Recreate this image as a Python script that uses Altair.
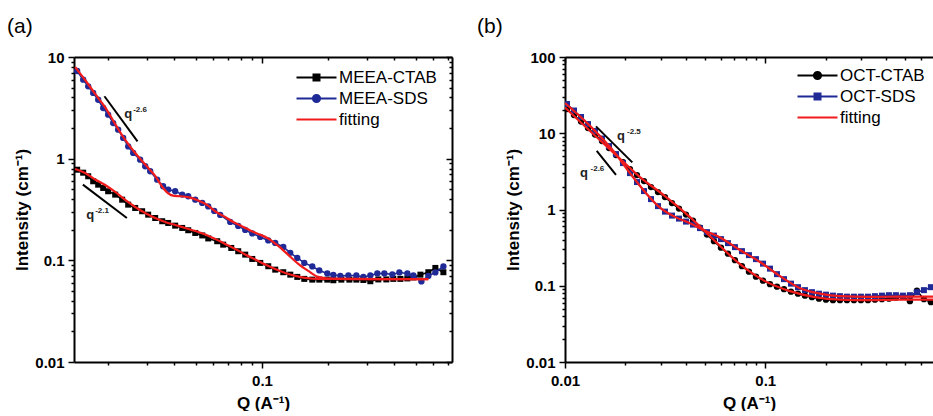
import altair as alt
import pandas as pd

FONT = "Liberation Sans"
BLACK = "#000000"
NAVY = "#1f2a96"
RED = "#f21b1b"

# ---------------- (a) MEEA samples ----------------
a_ctab_q = [0.01447, 0.01541, 0.01624, 0.01711, 0.01803, 0.0190, 0.02001, 0.02154, 0.02317, 0.02468,
            0.02655, 0.02856, 0.03042, 0.03273, 0.03523, 0.03749, 0.04034, 0.04342, 0.04624, 0.04977,
            0.05355, 0.05702, 0.06262, 0.06667, 0.07253, 0.07802, 0.08394, 0.09036, 0.09824, 0.1068,
            0.1149, 0.1250, 0.1345, 0.1447, 0.1557, 0.1693, 0.1822, 0.1981, 0.2110, 0.2294,
            0.2495, 0.2684, 0.2888, 0.3107, 0.3378, 0.3673, 0.3950, 0.4254, 0.4576, 0.4873,
            0.5246, 0.5700, 0.6134, 0.6671]
a_ctab_i = [0.779, 0.728, 0.671, 0.5995, 0.555, 0.515, 0.478, 0.443, 0.395, 0.353,
            0.3275, 0.304, 0.2814, 0.261, 0.2424, 0.2332, 0.2194, 0.2083, 0.1977, 0.1859,
            0.1757, 0.1642, 0.1541, 0.1427, 0.1324, 0.1229, 0.1138, 0.1032, 0.0943, 0.0875,
            0.0810, 0.0764, 0.0723, 0.0687, 0.0657, 0.0646, 0.0646, 0.0646, 0.0637, 0.0646,
            0.0646, 0.0646, 0.0641, 0.0623, 0.0649, 0.0649, 0.0657, 0.0657, 0.0664, 0.0679,
            0.0723, 0.0764, 0.0842, 0.0764]
a_sds_q = [0.01447, 0.01541, 0.01624, 0.01711, 0.01803, 0.0190, 0.02001, 0.02109, 0.02222, 0.02342,
           0.02468, 0.0260, 0.02797, 0.02948, 0.03107, 0.03342, 0.03557, 0.03749, 0.04034, 0.04342,
           0.04624, 0.04977, 0.05355, 0.05702, 0.06070, 0.06462, 0.07176, 0.07802, 0.08394, 0.09036,
           0.09824, 0.1068, 0.1149, 0.1250, 0.1345, 0.1447, 0.1557, 0.1693, 0.1822, 0.1981,
           0.2110, 0.2270, 0.2469, 0.2684, 0.2888, 0.3107, 0.3343, 0.3597, 0.3911, 0.4208,
           0.4576, 0.4873, 0.5300, 0.5700, 0.6134, 0.6671]
a_sds_i = [7.28, 5.98, 5.15, 4.43, 3.80, 3.15, 2.71, 2.24, 1.93, 1.60,
           1.32, 1.14, 0.978, 0.842, 0.752, 0.622, 0.535, 0.496, 0.478, 0.443,
           0.427, 0.395, 0.367, 0.339, 0.306, 0.2796, 0.2385, 0.218, 0.199, 0.1838,
           0.1699, 0.157, 0.1483, 0.1354, 0.1183, 0.1056, 0.0943, 0.0871, 0.0796, 0.0743,
           0.0718, 0.0703, 0.0710, 0.0710, 0.0687, 0.0710, 0.0743, 0.0743, 0.0727, 0.0760,
           0.0743, 0.0710, 0.0620, 0.0703, 0.0760, 0.0871]
a_fit_ctab_q = [0.01417, 0.01573, 0.01747, 0.0194, 0.02154, 0.02392, 0.02655, 0.02948, 0.03273, 0.03634,
                0.04034, 0.04479, 0.04977, 0.05527, 0.06136, 0.06808, 0.07559, 0.08394, 0.09322, 0.1035,
                0.1149, 0.1276, 0.1417, 0.1573, 0.1803, 0.2110, 0.5700]
a_fit_ctab_i = [0.792, 0.724, 0.6245, 0.5514, 0.4707, 0.3925, 0.335, 0.2925, 0.261, 0.2385,
                0.2229, 0.2083, 0.1946, 0.1798, 0.1623, 0.145, 0.1294, 0.1143, 0.1021, 0.0912,
                0.0823, 0.0752, 0.0703, 0.0671, 0.0657, 0.0657, 0.0652]
a_fit_sds_q = [0.01417, 0.01573, 0.01747, 0.0194, 0.02154, 0.02392, 0.02655, 0.02948, 0.03273, 0.03557,
               0.03749, 0.03993, 0.04296, 0.04673, 0.05136, 0.05642, 0.06197, 0.06808, 0.07403, 0.08137,
               0.08846, 0.09621, 0.1057, 0.1186, 0.1317, 0.1462, 0.1623, 0.1803, 0.2110, 0.3107, 0.5700]
a_fit_sds_i = [7.97, 5.94, 4.33, 3.19, 2.19, 1.53, 1.138, 0.877, 0.676, 0.515,
               0.455, 0.430, 0.427, 0.4155, 0.388, 0.3505, 0.299, 0.267, 0.2385, 0.2154,
               0.1968, 0.1818, 0.1661, 0.1385, 0.1130, 0.0922, 0.0787, 0.0687, 0.0657, 0.0652, 0.0652]
a_names = ["MEEA-CTAB", "MEEA-SDS", "fitting"]
# power-law guide segments: q1, i1, q2, i2
a_guide_q1 = [0.01925, 0.01536]
a_guide_i1 = [4.11, 0.555]
a_guide_q2 = [0.0272, 0.02434]
a_guide_i2 = [1.48, 0.261]
# guide labels: "q" plus its exponent
a_lbl_text = ["q", "-2.6", "q", "-2.1"]
a_lbl_q = [0.02366, 0.0260, 0.0159, 0.01747]
a_lbl_i = [2.513, 2.88, 0.2554, 0.2925]
a_lbl_size = [13, 8, 13, 8]

# ---------------- (b) OCT samples ----------------
b_q = [0.010233, 0.011090, 0.012021, 0.013026, 0.014118, 0.015299, 0.016584, 0.017973, 0.019478, 0.021111,
       0.022880, 0.024797, 0.026874, 0.029125, 0.031564, 0.034209, 0.037075, 0.040180, 0.043547, 0.047195,
       0.051148, 0.055433, 0.060078, 0.065110, 0.070564, 0.076476, 0.082882, 0.089825, 0.097392, 0.10555,
       0.11439, 0.12397, 0.13436, 0.14561, 0.15781, 0.17103, 0.18535, 0.20088, 0.21771, 0.23594,
       0.25571, 0.27712, 0.30033, 0.32549, 0.35275, 0.38229, 0.41432, 0.44902, 0.48663, 0.52738,
       0.57155, 0.61943, 0.67131]
b_ctab_i = [20.78, 17.33, 14.24, 11.70, 9.61, 7.90, 6.39, 5.18, 4.19, 3.39,
            2.83, 2.36, 1.968, 1.692, 1.454, 1.213, 1.027, 0.857, 0.715, 0.579,
            0.4685, 0.3848, 0.3162, 0.2637, 0.2168, 0.1808, 0.1531, 0.1317, 0.1167, 0.1050,
            0.0973, 0.0902, 0.0837, 0.0787, 0.0742, 0.0709, 0.0677, 0.0657, 0.0647, 0.0647,
            0.0647, 0.0647, 0.0647, 0.0647, 0.0657, 0.0667, 0.0677, 0.0698, 0.0719, 0.0628,
            0.0862, 0.0667, 0.0609]
b_sds_i = [24.16, 19.86, 16.32, 13.20, 10.69, 8.52, 6.79, 5.33, 4.06, 3.00,
           2.29, 1.744, 1.369, 1.108, 0.938, 0.832, 0.760, 0.694, 0.634, 0.570,
           0.505, 0.4545, 0.4088, 0.3622, 0.3211, 0.2844, 0.2521, 0.2234, 0.1950, 0.1677,
           0.1420, 0.1221, 0.1066, 0.0958, 0.0876, 0.0824, 0.0787, 0.0764, 0.0742, 0.0730,
           0.0719, 0.0719, 0.0719, 0.0719, 0.0730, 0.0742, 0.0752, 0.0752, 0.0742, 0.0752,
           0.0824, 0.0876, 0.0958]
b_fit_ctab_q = [0.01, 0.01333, 0.01777, 0.02368, 0.03157, 0.04208, 0.05609, 0.07475, 0.09965, 0.1328,
                0.1771, 0.2360, 0.3333, 0.4704, 0.6875]
b_fit_ctab_i = [21.74, 10.69, 5.33, 2.66, 1.499, 0.795, 0.3848, 0.1921, 0.1150, 0.0850,
                0.0709, 0.0657, 0.0647, 0.0657, 0.0657]
b_fit_sds_q = [0.01, 0.01333, 0.01777, 0.02111, 0.02508, 0.02980, 0.03541, 0.04208, 0.05000, 0.05940,
               0.07475, 0.09408, 0.1184, 0.1490, 0.1875, 0.2360, 0.3333, 0.4704, 0.6875]
b_fit_sds_i = [24.9, 12.5, 5.5, 3.00, 1.70, 1.06, 0.80, 0.66, 0.525, 0.430,
               0.294, 0.205, 0.134, 0.093, 0.079, 0.0730, 0.0715, 0.0720, 0.0720]
b_names = ["OCT-CTAB", "OCT-SDS", "fitting"]
b_guide_q1 = [0.01428, 0.01440]
b_guide_i1 = [12.32, 5.89]
b_guide_q2 = [0.02168, 0.01797]
b_guide_i2 = [4.15, 2.85]
b_lbl_text = ["q", "-2.5", "q", "-2.6"]
b_lbl_q = [0.01818, 0.0204, 0.01188, 0.01341]
b_lbl_i = [8.14, 9.76, 2.66, 3.19]
b_lbl_size = [13, 8, 13, 8]

# legend glyphs (unit = 5 px): a 40 px line starting at the symbol cell,
# optionally with the series marker at its middle
LINE = "M-1,0H7"
SQUARE_GLYPH = LINE + "M2.4,-0.6H3.6V0.6H2.4Z"
CIRCLE_GLYPH = LINE + "M2.28,0A0.72,0.72 0 1,0 3.72,0A0.72,0.72 0 1,0 2.28,0Z"


def log_ticks(lo_exp, hi_exp):
    vals = []
    for e in range(lo_exp, hi_exp + 1):
        for m in range(1, 10):
            vals.append(round(m * 10.0 ** e, 8))
    return vals


IS_DECADE = "abs(log(datum.value)/LN10 - round(log(datum.value)/LN10)) < 1e-6"
TICK_OUT = {"condition": {"test": IS_DECADE, "value": 6}, "value": 3}

AXIS_STYLE = dict(
    domainColor=BLACK, domainWidth=2, tickColor=BLACK, tickWidth=1.5,
    grid=False, labelFlush=False, labelOverlap=False,
)


def main_axis(orient, ticks, title):
    return alt.Axis(
        orient=orient, values=ticks, format="~g",
        labelExpr=f"({IS_DECADE}) ? datum.label : ''",
        tickSize=TICK_OUT, labelFont=FONT, labelFontSize=15, labelFontWeight="bold",
        labelColor=BLACK, labelPadding=5 if orient == "bottom" else 4,
        title=title, titleFont=FONT, titleFontSize=17, titleFontWeight="bold",
        titleColor=BLACK, titlePadding=7 if orient == "bottom" else 3,
        **AXIS_STYLE,
    )


def frame_axis(orient, ticks, offset):
    # mirrored axis drawn on the opposite edge with ticks pointing inward
    return alt.Axis(
        orient=orient, offset=offset, values=ticks, labels=False, title=None,
        tickSize=TICK_OUT, **AXIS_STYLE,
    )


def panel(tag, tag_dx, xdom, ydom, w, h, series, fits, guides, labels, names, glyphs,
          legend_xy, right_frame):
    xs = alt.Scale(type="log", domain=xdom)
    ys = alt.Scale(type="log", domain=ydom)
    xt = log_ticks(-2, 0)
    yt = log_ticks(-2, 2)

    def X(axis=None):
        return alt.X("q:Q", scale=xs, axis=axis)

    def Y(axis=None):
        return alt.Y("i:Q", scale=ys, axis=axis)

    layers = []
    first = True
    for q, i, color, shape, size in series:
        df = pd.DataFrame({"q": q, "i": i})
        xa = main_axis("bottom", xt, "Q (A⁻¹)") if first else None
        ya = main_axis("left", yt, "Intensity (cm⁻¹)") if first else None
        first = False
        base = alt.Chart(df)
        layers.append(base.mark_line(color=color, strokeWidth=1.6, clip=True)
                      .encode(x=X(xa), y=Y(ya)))
        layers.append(base.mark_point(shape=shape, size=size, filled=True, color=color,
                                      opacity=1, clip=True)
                      .encode(x=X(), y=Y()))
    for q, i in fits:
        df = pd.DataFrame({"q": q, "i": i})
        layers.append(alt.Chart(df).mark_line(color=RED, strokeWidth=2.2, interpolate="monotone",
                                              clip=True).encode(x=X(), y=Y()))

    gq1, gi1, gq2, gi2 = guides
    gdf = pd.DataFrame({"q": gq1, "i": gi1, "q2": gq2, "i2": gi2})
    layers.append(alt.Chart(gdf).mark_rule(color=BLACK, strokeWidth=2).encode(
        x=X(), y=Y(), x2="q2:Q", y2="i2:Q"))

    lt, lq, li, ls = labels
    ldf = pd.DataFrame({"t": lt, "q": lq, "i": li, "fs": ls})
    layers.append(alt.Chart(ldf).mark_text(align="left", baseline="alphabetic", font=FONT,
                                           fontWeight="bold", color="#222222").encode(
        x=X(), y=Y(), text="t:N", size=alt.Size("fs:Q", scale=None)))

    # legend carrier: rows sit below the visible domain and are clipped away
    leg = alt.Legend(title=None, orient="none", legendX=legend_xy[0], legendY=legend_xy[1],
                     labelFont=FONT, labelFontSize=17, labelColor=BLACK, symbolSize=100,
                     symbolStrokeWidth=2, symbolOpacity=1, labelOffset=29, rowPadding=3,
                     padding=0, labelLimit=200)
    cdf = pd.DataFrame({"name": names, "q": [xdom[0] / 10] * 3, "i": [ydom[0] / 10] * 3})
    colors = alt.Scale(domain=names, range=[BLACK, NAVY, RED])
    layers.append(alt.Chart(cdf).mark_point(filled=True, clip=True, strokeWidth=2).encode(
        x=X(frame_axis("bottom", xt, -h)),
        y=Y(frame_axis("left", yt, -w) if right_frame else None),
        fill=alt.Fill("name:N", scale=colors, legend=leg),
        stroke=alt.Stroke("name:N", scale=colors, legend=leg),
        shape=alt.Shape("name:N", scale=alt.Scale(domain=names, range=glyphs), legend=leg),
    ))

    return alt.layer(*layers).resolve_axis(x="independent", y="independent").properties(
        width=w, height=h,
        title=alt.TitleParams(tag, anchor="start", frame="group", dx=tag_dx, font=FONT,
                              fontSize=21, fontWeight="normal", color=BLACK, offset=13),
    )


panel_a = panel(
    "(a)", -67, [0.014, 0.73], [0.01, 10], 378, 305,
    series=[(a_ctab_q, a_ctab_i, BLACK, "square", 36),
            (a_sds_q, a_sds_i, NAVY, "circle", 40)],
    fits=[(a_fit_ctab_q, a_fit_ctab_i), (a_fit_sds_q, a_fit_sds_i)],
    guides=(a_guide_q1, a_guide_i1, a_guide_q2, a_guide_i2),
    labels=(a_lbl_text, a_lbl_q, a_lbl_i, a_lbl_size),
    names=a_names, glyphs=[SQUARE_GLYPH, CIRCLE_GLYPH, LINE],
    legend_xy=(219, 12), right_frame=True,
)

panel_b = panel(
    "(b)", -88, [0.01, 0.6877], [0.01, 100], 368, 305,
    series=[(b_q, b_ctab_i, BLACK, "circle", 40),
            (b_q, b_sds_i, NAVY, "square", 36)],
    fits=[(b_fit_ctab_q, b_fit_ctab_i), (b_fit_sds_q, b_fit_sds_i)],
    guides=(b_guide_q1, b_guide_i1, b_guide_q2, b_guide_i2),
    labels=(b_lbl_text, b_lbl_q, b_lbl_i, b_lbl_size),
    names=b_names, glyphs=[CIRCLE_GLYPH, SQUARE_GLYPH, LINE],
    legend_xy=(229, 10), right_frame=False,
)

chart = alt.hconcat(panel_a, panel_b, spacing=24).resolve_scale(
    fill="independent", stroke="independent", shape="independent",
).resolve_legend(
    fill="independent", stroke="independent", shape="independent",
).properties(
    padding={"left": 7, "top": 16, "right": 0, "bottom": 0},
    background="white",
).configure_view(stroke=None)

chart.save("out.html", embed_options={"renderer": "svg", "actions": False})
